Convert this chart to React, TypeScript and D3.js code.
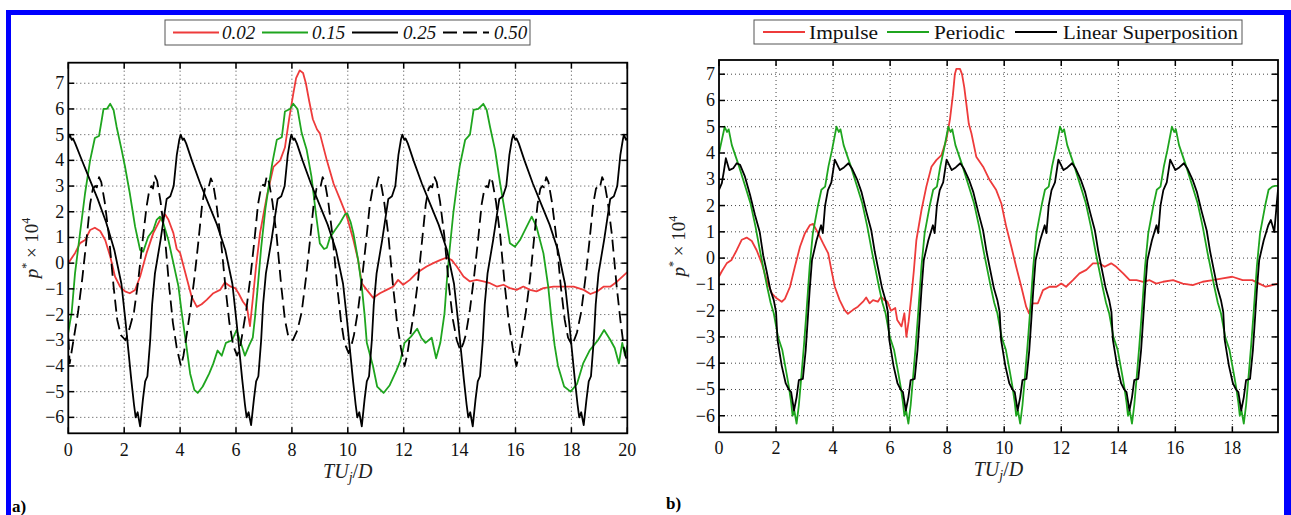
import React from 'react';
import * as d3 from 'd3';

type Pt = [number, number];

// ---------- tick values ----------
const leftXTicks = [0, 2, 4, 6, 8, 10, 12, 14, 16, 18, 20];
const rightXTicks = [0, 2, 4, 6, 8, 10, 12, 14, 16, 18];
const yTicks = [-6, -5, -4, -3, -2, -1, 0, 1, 2, 3, 4, 5, 6, 7];

// ---------- panel a) series ----------
const leftLegend = ['0.02', '0.15', '0.25', '0.50'];

const redA: Pt[] = [
  [0, 0.0], [0.24, 0.39], [0.42, 0.78], [0.6, 0.9], [0.78, 1.29], [0.95, 1.38], [1.14, 1.25], [1.32, 0.9],
  [1.5, 0.26], [1.67, -0.52], [1.85, -0.91], [2.03, -1.1], [2.2, -1.17], [2.39, -1.04], [2.57, -0.52],
  [2.8, 0.39], [3.04, 1.17], [3.28, 1.68], [3.46, 1.9], [3.58, 1.7], [3.76, 1.17], [3.88, 0.55], [4.0, 0.4],
  [4.12, -0.1], [4.24, -0.6], [4.41, -1.3], [4.6, -1.7], [4.77, -1.6], [4.95, -1.43], [5.19, -1.17],
  [5.43, -1.04], [5.6, -0.75], [5.79, -0.9], [5.97, -0.97], [6.09, -1.17], [6.25, -1.5], [6.39, -1.7],
  [6.5, -2.45], [6.62, -1.2], [6.72, -0.1], [6.86, 1.17], [7.1, 2.59], [7.34, 3.75], [7.58, 4.0],
  [7.75, 4.5], [7.9, 5.6], [8.05, 6.6], [8.15, 7.2], [8.28, 7.5], [8.4, 7.4], [8.5, 7.0], [8.62, 6.3],
  [8.75, 5.6], [8.9, 5.2], [9.0, 5.05], [9.25, 4.0], [9.49, 3.1], [9.73, 2.46], [9.97, 1.81], [10.2, 0.9],
  [10.37, 0.12], [10.5, -0.78], [10.68, -1.04], [10.91, -1.35], [11.15, -1.17], [11.39, -1.04],
  [11.63, -0.91], [11.8, -0.65], [11.98, -0.84], [12.22, -0.65], [12.46, -0.39], [12.64, -0.26],
  [12.82, -0.13], [13.06, 0.0], [13.3, 0.12], [13.54, 0.22], [13.72, 0.12], [13.9, -0.13], [14.14, -0.52],
  [14.37, -0.71], [14.61, -0.65], [14.85, -0.71], [15.09, -0.78], [15.33, -0.91], [15.57, -0.84],
  [15.8, -0.97], [16.04, -1.04], [16.28, -0.91], [16.52, -1.04], [16.75, -1.1], [17.0, -0.97],
  [17.36, -0.91], [17.72, -0.91], [18.08, -0.91], [18.44, -1.04], [18.68, -1.2], [18.92, -1.1],
  [19.16, -0.91], [19.4, -0.91], [19.64, -0.71], [20.0, -0.35],
];

const greenA: Pt[] = [
  [0, -2.7], [0.06, -2.3], [0.12, -1.93], [0.24, -0.4], [0.42, 1.17], [0.6, 2.72], [0.78, 4.0], [0.95, 4.87],
  [1.1, 4.95], [1.2, 5.6], [1.26, 6.0], [1.38, 6.0], [1.5, 6.2], [1.62, 5.96], [1.73, 5.3], [1.91, 4.4],
  [2.03, 3.75], [2.2, 2.72], [2.39, 1.42], [2.57, 0.51], [2.68, 0.45], [2.86, 1.03], [3.04, 1.29],
  [3.16, 1.68], [3.28, 1.81], [3.4, 1.55], [3.58, 0.9], [3.76, 0.0], [3.94, -0.9], [4.06, -1.94],
  [4.21, -3.1], [4.36, -4.3], [4.51, -4.93], [4.63, -5.05], [4.81, -4.8], [5.04, -4.3], [5.19, -3.9],
  [5.34, -3.4], [5.49, -3.6], [5.64, -3.1], [5.86, -3.0], [6.02, -2.6], [6.17, -3.1], [6.32, -3.6],
  [6.47, -3.2], [6.6, -2.9], [6.68, -2.1], [6.78, -0.9], [6.9, 0.6], [7.05, 2.1], [7.2, 3.2], [7.3, 3.9],
  [7.46, 4.8], [7.64, 4.9], [7.75, 5.9], [7.93, 6.0], [8.05, 6.2], [8.2, 6.0], [8.35, 5.06], [8.53, 4.4],
  [8.7, 3.37], [8.85, 2.0], [9.0, 0.77], [9.15, 0.55], [9.25, 0.6], [9.36, 1.0], [9.55, 1.3], [9.72, 1.56],
  [9.9, 1.9], [9.98, 1.94], [10.1, 1.6], [10.2, 1.16], [10.37, 0.12], [10.5, -0.9], [10.6, -2.0],
  [10.68, -3.1], [10.9, -4.0], [11.05, -4.8], [11.28, -5.05], [11.5, -4.75], [11.73, -4.2], [11.88, -3.8],
  [12.03, -3.1], [12.26, -2.86], [12.48, -2.55], [12.63, -2.9], [12.78, -3.1], [13.0, -2.9], [13.16, -3.7],
  [13.31, -3.1], [13.46, -1.95], [13.55, -0.6], [13.65, 0.6], [13.78, 2.0], [13.9, 3.0], [14.0, 3.75],
  [14.2, 4.8], [14.37, 5.0], [14.5, 5.96], [14.67, 6.0], [14.85, 6.2], [14.97, 5.96], [15.09, 5.3],
  [15.27, 4.4], [15.45, 3.1], [15.63, 1.94], [15.8, 0.77], [15.98, 0.64], [16.16, 0.9], [16.4, 1.42],
  [16.58, 1.81], [16.75, 1.42], [17.0, 0.38], [17.17, -0.9], [17.29, -2.2], [17.4, -3.2], [17.52, -4.0],
  [17.74, -4.8], [17.97, -5.0], [18.2, -4.7], [18.42, -3.9], [18.65, -3.4], [18.8, -3.2], [18.95, -3.0],
  [19.17, -2.6], [19.4, -3.0], [19.55, -3.3], [19.7, -3.9], [19.82, -3.1], [19.92, -3.6], [20.0, -3.2],
];

const blackA: Pt[] = [
  [0, 4.85], [0.05, 5.0], [0.12, 4.8], [0.17, 4.85], [0.25, 4.65], [0.45, 4.1], [0.75, 3.3], [1.05, 2.5],
  [1.35, 1.6], [1.65, 0.5], [1.9, -0.8], [2.05, -2.3], [2.15, -3.4], [2.25, -4.5], [2.35, -5.5], [2.41, -6.0],
  [2.48, -5.8], [2.57, -6.35], [2.67, -5.3], [2.75, -4.6], [2.83, -4.4], [2.93, -3.0], [3.0, -1.6],
  [3.1, -0.4], [3.3, 0.9], [3.52, 2.5], [3.65, 2.6], [3.77, 3.0], [3.88, 4.2], [3.97, 4.8],
  [4.02, 5.0], [4.09, 4.8], [4.14, 4.85], [4.22, 4.65], [4.42, 4.0], [4.72, 3.1], [5.02, 2.3], [5.32, 1.5],
  [5.62, 0.5], [5.87, -0.8], [6.02, -2.3], [6.12, -3.4], [6.22, -4.5], [6.32, -5.5], [6.38, -6.0],
  [6.45, -5.8], [6.54, -6.3], [6.64, -5.3], [6.72, -4.6], [6.8, -4.4], [6.9, -3.0], [6.97, -1.6],
  [7.07, -0.4], [7.27, 0.9], [7.49, 2.5], [7.62, 2.6], [7.74, 3.0], [7.85, 4.2], [7.94, 4.8],
  [7.98, 5.0], [8.05, 4.8], [8.1, 4.85], [8.18, 4.65], [8.38, 4.0], [8.68, 3.1], [8.98, 2.3], [9.28, 1.5],
  [9.58, 0.5], [9.83, -0.8], [9.98, -2.3], [10.08, -3.4], [10.18, -4.5], [10.28, -5.5], [10.34, -6.0],
  [10.41, -5.8], [10.5, -6.35], [10.6, -5.3], [10.68, -4.6], [10.76, -4.4], [10.86, -3.0], [10.93, -1.6],
  [11.03, -0.4], [11.23, 0.9], [11.45, 2.5], [11.58, 2.6], [11.7, 3.0], [11.81, 4.2], [11.9, 4.8],
  [11.95, 5.0], [12.02, 4.8], [12.07, 4.85], [12.15, 4.65], [12.35, 4.0], [12.65, 3.1], [12.95, 2.3],
  [13.25, 1.5], [13.55, 0.5], [13.8, -0.8], [13.95, -2.3], [14.05, -3.4], [14.15, -4.5], [14.25, -5.5],
  [14.31, -6.0], [14.38, -5.8], [14.47, -6.35], [14.57, -5.3], [14.65, -4.6], [14.73, -4.4], [14.83, -3.0],
  [14.9, -1.6], [15.0, -0.4], [15.2, 0.9], [15.42, 2.5], [15.55, 2.6], [15.67, 3.0], [15.78, 4.2],
  [15.87, 4.8], [15.92, 5.0], [15.99, 4.8], [16.04, 4.85], [16.12, 4.65], [16.32, 4.0], [16.62, 3.1],
  [16.92, 2.3], [17.22, 1.5], [17.52, 0.5], [17.77, -0.8], [17.92, -2.3], [18.02, -3.4], [18.12, -4.5],
  [18.22, -5.5], [18.28, -6.0], [18.35, -5.8], [18.44, -6.3], [18.54, -5.3], [18.62, -4.6], [18.7, -4.4],
  [18.8, -3.0], [18.87, -1.6], [18.97, -0.4], [19.17, 0.9], [19.39, 2.5], [19.52, 2.6], [19.64, 3.0],
  [19.75, 4.2], [19.84, 4.8], [19.88, 5.0], [19.95, 4.8], [20.0, 4.85],
];

const dashA: Pt[] = [
  [0, -2.9], [0.05, -3.9], [0.2, -2.9], [0.35, -1.9], [0.5, -0.6], [0.65, 0.9], [0.78, 2.3], [0.88, 2.9],
  [0.96, 3.0], [1.02, 2.95], [1.1, 3.35], [1.18, 3.15], [1.3, 2.4], [1.45, 1.1], [1.62, -0.9], [1.75, -2.2],
  [1.88, -2.8], [2.05, -3.0], [2.2, -2.5], [2.35, -1.9], [2.5, -0.7], [2.65, 0.8], [2.8, 2.2], [2.9, 2.85],
  [2.97, 3.0], [3.03, 2.9], [3.1, 3.4], [3.18, 3.2], [3.3, 2.4], [3.45, 1.1], [3.6, -0.8], [3.74, -2.3],
  [3.88, -3.3], [4.03, -4.0], [4.12, -3.6], [4.22, -2.9], [4.37, -1.8], [4.52, -0.5], [4.66, 0.9],
  [4.79, 2.3], [4.89, 2.9], [4.96, 3.0], [5.02, 2.95], [5.1, 3.3], [5.18, 3.1], [5.3, 2.3], [5.45, 1.0],
  [5.62, -0.9], [5.76, -2.3], [5.9, -3.2], [6.04, -3.6], [6.14, -3.3], [6.22, -2.8], [6.37, -1.8],
  [6.52, -0.5], [6.66, 0.9], [6.79, 2.3], [6.89, 2.9], [6.97, 3.05], [7.03, 3.0], [7.1, 3.38], [7.18, 3.15],
  [7.3, 2.4], [7.45, 1.1], [7.62, -0.9], [7.75, -2.2], [7.88, -2.9], [8.03, -3.0], [8.2, -2.6], [8.35, -1.9],
  [8.5, -0.6], [8.65, 0.9], [8.78, 2.3], [8.88, 2.9], [8.96, 3.0], [9.02, 2.95], [9.1, 3.35], [9.18, 3.15],
  [9.3, 2.4], [9.45, 1.1], [9.62, -0.9], [9.75, -2.2], [9.88, -3.1], [10.03, -3.5], [10.13, -3.2],
  [10.22, -2.8], [10.37, -1.8], [10.52, -0.5], [10.66, 0.9], [10.79, 2.3], [10.89, 2.9], [10.96, 3.0],
  [11.02, 2.95], [11.1, 3.35], [11.18, 3.15], [11.3, 2.4], [11.45, 1.1], [11.62, -0.9], [11.76, -2.3],
  [11.9, -3.3], [12.03, -4.0], [12.12, -3.6], [12.22, -2.9], [12.37, -1.9], [12.52, -0.6], [12.66, 0.9],
  [12.79, 2.3], [12.89, 2.9], [12.96, 3.0], [13.02, 2.95], [13.1, 3.35], [13.18, 3.15], [13.3, 2.4],
  [13.45, 1.1], [13.62, -0.9], [13.76, -2.2], [13.9, -3.0], [14.03, -3.4], [14.14, -3.1], [14.22, -2.8],
  [14.37, -1.8], [14.52, -0.5], [14.66, 0.9], [14.79, 2.3], [14.89, 2.9], [14.96, 3.0], [15.02, 2.95],
  [15.1, 3.35], [15.18, 3.15], [15.3, 2.4], [15.45, 1.1], [15.62, -0.9], [15.76, -2.3], [15.9, -3.3],
  [16.03, -4.0], [16.12, -3.6], [16.22, -2.9], [16.37, -1.9], [16.52, -0.6], [16.66, 0.9], [16.79, 2.3],
  [16.89, 2.9], [16.96, 3.0], [17.02, 2.95], [17.1, 3.35], [17.18, 3.15], [17.3, 2.4], [17.45, 1.1],
  [17.62, -0.9], [17.76, -2.2], [17.88, -2.9], [18.03, -3.2], [18.2, -2.7], [18.35, -1.9], [18.5, -0.6],
  [18.65, 0.9], [18.78, 2.3], [18.88, 2.9], [18.96, 3.0], [19.02, 2.95], [19.1, 3.35], [19.18, 3.15],
  [19.3, 2.4], [19.45, 1.1], [19.62, -0.9], [19.75, -2.2], [19.88, -3.3], [20.0, -3.9],
];

// ---------- panel b) series ----------
const rightLegend = ['Impulse', 'Periodic', 'Linear Superposition'];

const impulseB: Pt[] = [
  [0, -0.7], [0.1, -0.5], [0.27, -0.2], [0.44, -0.07], [0.62, 0.3], [0.8, 0.7], [0.97, 0.78], [1.15, 0.65],
  [1.32, 0.3], [1.5, -0.2], [1.67, -0.84], [1.85, -1.34], [2.02, -1.53], [2.2, -1.66], [2.31, -1.55],
  [2.49, -1.09], [2.66, -0.33], [2.84, 0.43], [3.01, 0.94], [3.19, 1.26], [3.3, 1.3], [3.48, 0.94],
  [3.65, 0.56], [3.83, 0.18], [3.94, -0.45], [4.06, -1.09], [4.23, -1.6], [4.4, -1.97], [4.52, -2.12],
  [4.7, -1.97], [4.87, -1.85], [5.05, -1.66], [5.16, -1.5], [5.28, -1.72], [5.4, -1.6], [5.57, -1.66],
  [5.68, -1.47], [5.8, -1.6], [5.9, -1.65], [6.03, -2.0], [6.18, -1.9], [6.25, -2.36], [6.4, -2.6],
  [6.5, -2.1], [6.57, -3.0], [6.65, -2.4], [6.75, -1.4], [6.83, -0.5], [6.92, 0.68], [7.1, 1.83],
  [7.27, 2.72], [7.45, 3.48], [7.62, 3.73], [7.8, 3.92], [7.97, 4.49], [8.1, 5.3], [8.2, 6.2], [8.27, 7.0],
  [8.32, 7.2], [8.45, 7.2], [8.52, 7.0], [8.6, 6.5], [8.68, 5.8], [8.76, 5.1], [8.85, 4.75], [9.02, 3.86],
  [9.26, 3.48], [9.49, 2.97], [9.72, 2.59], [9.9, 2.08], [10.07, 1.2], [10.25, 0.43], [10.42, -0.33],
  [10.6, -1.09], [10.77, -1.85], [10.87, -2.1], [11.0, -1.72], [11.18, -1.72], [11.36, -1.22],
  [11.59, -1.09], [11.83, -1.09], [12.0, -0.97], [12.17, -1.09], [12.41, -0.84], [12.64, -0.58],
  [12.88, -0.45], [13.11, -0.2], [13.34, -0.2], [13.52, -0.33], [13.75, -0.2], [13.93, -0.33],
  [14.17, -0.58], [14.4, -0.84], [14.64, -0.84], [14.87, -0.9], [15.1, -0.84], [15.33, -0.97],
  [15.57, -0.9], [15.92, -0.84], [16.26, -0.97], [16.61, -1.03], [16.96, -0.9], [17.31, -0.84],
  [17.66, -0.77], [18.0, -0.71], [18.36, -0.84], [18.7, -0.84], [18.94, -0.97], [19.17, -1.09],
  [19.4, -1.03], [19.6, -0.97],
];

const periodicB: Pt[] = [
  [0, 4.0], [0.1, 4.5], [0.2, 5.0], [0.28, 4.8], [0.34, 4.9], [0.45, 4.3], [0.7, 3.5], [0.93, 2.7],
  [1.1, 2.1], [1.28, 1.2], [1.45, 0.2], [1.57, -0.45], [1.69, -1.1], [1.81, -1.7], [1.92, -2.1],
  [2.07, -3.0], [2.22, -3.5], [2.37, -4.4], [2.45, -4.9], [2.53, -5.5], [2.58, -6.0], [2.64, -5.8],
  [2.72, -6.3], [2.8, -5.6], [2.88, -4.6], [2.98, -3.3], [3.07, -2.0], [3.18, -0.3], [3.29, 0.94],
  [3.47, 2.0], [3.59, 2.6], [3.72, 2.72], [3.84, 3.5], [3.96, 4.1], [4.12, 5.0],
  [4.2, 4.8], [4.26, 4.9], [4.37, 4.3], [4.62, 3.5], [4.85, 2.7], [5.02, 2.1], [5.2, 1.2], [5.37, 0.2],
  [5.49, -0.45], [5.61, -1.1], [5.73, -1.7], [5.84, -2.1], [5.99, -3.0], [6.14, -3.5], [6.29, -4.4],
  [6.37, -4.9], [6.45, -5.5], [6.5, -6.0], [6.56, -5.8], [6.64, -6.3], [6.72, -5.6], [6.8, -4.6],
  [6.9, -3.3], [6.99, -2.0], [7.1, -0.3], [7.21, 0.94], [7.39, 2.0], [7.51, 2.6], [7.64, 2.72],
  [7.76, 3.5], [7.88, 4.1], [8.04, 5.0],
  [8.12, 4.8], [8.18, 4.9], [8.29, 4.3], [8.54, 3.5], [8.77, 2.7], [8.94, 2.1], [9.12, 1.2], [9.29, 0.2],
  [9.41, -0.45], [9.53, -1.1], [9.65, -1.7], [9.76, -2.1], [9.91, -3.0], [10.06, -3.5], [10.21, -4.4],
  [10.29, -4.9], [10.37, -5.5], [10.42, -6.0], [10.48, -5.8], [10.56, -6.3], [10.64, -5.6], [10.72, -4.6],
  [10.82, -3.3], [10.91, -2.0], [11.02, -0.3], [11.13, 0.94], [11.31, 2.0], [11.43, 2.6], [11.56, 2.72],
  [11.68, 3.5], [11.8, 4.1], [11.96, 5.0],
  [12.04, 4.8], [12.1, 4.9], [12.21, 4.3], [12.46, 3.5], [12.69, 2.7], [12.86, 2.1], [13.04, 1.2],
  [13.21, 0.2], [13.33, -0.45], [13.45, -1.1], [13.57, -1.7], [13.68, -2.1], [13.83, -3.0], [13.98, -3.5],
  [14.13, -4.4], [14.21, -4.9], [14.29, -5.5], [14.34, -6.0], [14.4, -5.8], [14.48, -6.3], [14.56, -5.6],
  [14.64, -4.6], [14.74, -3.3], [14.83, -2.0], [14.94, -0.3], [15.05, 0.94], [15.23, 2.0], [15.35, 2.6],
  [15.48, 2.72], [15.6, 3.5], [15.72, 4.1], [15.88, 5.0],
  [15.96, 4.8], [16.02, 4.9], [16.13, 4.3], [16.38, 3.5], [16.61, 2.7], [16.78, 2.1], [16.96, 1.2],
  [17.13, 0.2], [17.25, -0.45], [17.37, -1.1], [17.49, -1.7], [17.6, -2.1], [17.75, -3.0], [17.9, -3.5],
  [18.05, -4.4], [18.13, -4.9], [18.21, -5.5], [18.26, -6.0], [18.32, -5.8], [18.4, -6.3], [18.48, -5.6],
  [18.56, -4.6], [18.66, -3.3], [18.75, -2.0], [18.86, -0.3], [18.97, 0.94], [19.15, 2.0], [19.27, 2.6],
  [19.4, 2.72], [19.5, 2.75], [19.6, 2.75],
];

const superB: Pt[] = [
  [0, 2.6], [0.1, 2.85], [0.17, 3.3], [0.24, 3.8], [0.36, 3.35], [0.5, 3.42], [0.62, 3.61], [0.74, 3.55],
  [0.91, 3.1], [1.09, 2.4], [1.26, 1.65], [1.43, 0.98], [1.55, 0.1], [1.67, -0.5], [1.8, -1.2], [1.92, -1.6],
  [2.0, -2.05], [2.05, -3.1], [2.2, -4.1], [2.34, -4.77], [2.45, -5.0], [2.53, -5.1], [2.63, -5.8],
  [2.72, -5.3], [2.8, -4.64], [2.94, -4.6], [3.04, -3.5], [3.12, -2.2], [3.18, -1.2], [3.26, -0.08],
  [3.42, 0.68], [3.58, 1.25], [3.64, 0.95], [3.72, 2.0], [3.82, 2.59], [3.94, 2.88], [4.06, 3.75],
  [4.24, 3.35], [4.38, 3.45], [4.54, 3.61], [4.67, 3.4], [4.84, 3.0], [5.0, 2.5], [5.17, 1.75], [5.34, 1.05],
  [5.46, 0.25], [5.58, -0.4], [5.72, -1.15], [5.84, -1.6], [5.92, -2.05], [5.97, -3.1], [6.12, -4.1],
  [6.26, -4.77], [6.37, -5.0], [6.45, -5.1], [6.55, -5.8], [6.64, -5.3], [6.72, -4.64], [6.86, -4.6],
  [6.96, -3.5], [7.04, -2.2], [7.1, -1.2], [7.18, -0.08], [7.34, 0.68], [7.5, 1.25], [7.56, 0.95],
  [7.64, 2.0], [7.74, 2.59], [7.86, 2.88], [7.98, 3.75],
  [8.16, 3.35], [8.3, 3.45], [8.46, 3.61], [8.59, 3.4], [8.76, 3.0], [8.92, 2.5], [9.09, 1.75], [9.26, 1.05],
  [9.38, 0.25], [9.5, -0.4], [9.64, -1.15], [9.76, -1.6], [9.84, -2.05], [9.89, -3.1], [10.04, -4.1],
  [10.18, -4.77], [10.29, -5.0], [10.37, -5.1], [10.47, -5.8], [10.56, -5.3], [10.64, -4.64], [10.78, -4.6],
  [10.88, -3.5], [10.96, -2.2], [11.02, -1.2], [11.1, -0.08], [11.26, 0.68], [11.42, 1.25], [11.48, 0.95],
  [11.56, 2.0], [11.66, 2.59], [11.78, 2.88], [11.9, 3.75],
  [12.08, 3.35], [12.22, 3.45], [12.38, 3.61], [12.51, 3.4], [12.68, 3.0], [12.84, 2.5], [13.01, 1.75],
  [13.18, 1.05], [13.3, 0.25], [13.42, -0.4], [13.56, -1.15], [13.68, -1.6], [13.76, -2.05], [13.81, -3.1],
  [13.96, -4.1], [14.1, -4.77], [14.21, -5.0], [14.29, -5.1], [14.39, -5.8], [14.48, -5.3], [14.56, -4.64],
  [14.7, -4.6], [14.8, -3.5], [14.88, -2.2], [14.94, -1.2], [15.02, -0.08], [15.18, 0.68], [15.34, 1.25],
  [15.4, 0.95], [15.48, 2.0], [15.58, 2.59], [15.7, 2.88], [15.82, 3.75],
  [16.0, 3.35], [16.14, 3.45], [16.3, 3.61], [16.43, 3.4], [16.6, 3.0], [16.76, 2.5], [16.93, 1.75],
  [17.1, 1.05], [17.22, 0.25], [17.34, -0.4], [17.48, -1.15], [17.6, -1.6], [17.68, -2.05], [17.73, -3.1],
  [17.88, -4.1], [18.02, -4.77], [18.13, -5.0], [18.21, -5.1], [18.31, -5.8], [18.4, -5.3], [18.48, -4.64],
  [18.62, -4.6], [18.72, -3.5], [18.8, -2.2], [18.86, -1.2], [18.94, -0.08], [19.1, 0.68], [19.26, 1.25],
  [19.35, 1.45], [19.47, 1.0], [19.55, 2.0], [19.6, 2.6],
];

const RED = '#ee3b3b';
const GREEN = '#1fa51f';
const BLACK = '#000000';
const FONT = '"Liberation Serif", "Times New Roman", serif';

type Series = { data: Pt[]; color: string; dash?: string };

type PanelProps = {
  id: string;
  x0: number; x1: number; yTop: number; yBot: number;
  xMax: number; yMin: number; yMax: number;
  xTicks: number[];
  series: Series[];
  tickBase: number;
  xLabelY: number;
  yLabelX: number;
};

function fmt(v: number) {
  return v < 0 ? '\u2212' + Math.abs(v) : String(v);
}

function Panel(p: PanelProps) {
  const xs = d3.scaleLinear().domain([0, p.xMax]).range([p.x0, p.x1]);
  const ys = d3.scaleLinear().domain([p.yMin, p.yMax]).range([p.yBot, p.yTop]);
  const line = d3.line<Pt>().x(d => xs(d[0])).y(d => ys(d[1]));
  const tl = 6;
  const cx = (p.x0 + p.x1) / 2;
  const cy = (p.yTop + p.yBot) / 2;
  return (
    <g>
      <defs>
        <clipPath id={p.id}>
          <rect x={p.x0} y={p.yTop} width={p.x1 - p.x0} height={p.yBot - p.yTop} />
        </clipPath>
      </defs>
      <rect x={p.x0} y={p.yTop} width={p.x1 - p.x0} height={p.yBot - p.yTop} fill="#fff" />
      {p.xTicks.filter(t => t > 0 && t < p.xMax).map(t => (
        <line key={'gx' + t} x1={xs(t)} x2={xs(t)} y1={p.yTop} y2={p.yBot}
          stroke="#444" strokeWidth={1} strokeDasharray="1,3" />
      ))}
      {yTicks.map(t => (
        <line key={'gy' + t} x1={p.x0} x2={p.x1} y1={ys(t)} y2={ys(t)}
          stroke="#444" strokeWidth={1} strokeDasharray="1,3" />
      ))}
      <g clipPath={`url(#${p.id})`}>
        {p.series.map((s, i) => (
          <path key={i} d={line(s.data) || ''} fill="none" stroke={s.color} strokeWidth={1.8}
            strokeDasharray={s.dash} strokeLinejoin="round" />
        ))}
      </g>
      {p.xTicks.map(t => (
        <g key={'tx' + t}>
          <line x1={xs(t)} x2={xs(t)} y1={p.yBot} y2={p.yBot - tl} stroke="#000" strokeWidth={1.5} />
          <line x1={xs(t)} x2={xs(t)} y1={p.yTop} y2={p.yTop + tl} stroke="#000" strokeWidth={1.5} />
          <text x={xs(t)} y={p.tickBase} textAnchor="middle" fontFamily={FONT} fontSize={18} fill="#111">{fmt(t)}</text>
        </g>
      ))}
      {yTicks.map(t => (
        <g key={'ty' + t}>
          <line x1={p.x0} x2={p.x0 + tl} y1={ys(t)} y2={ys(t)} stroke="#000" strokeWidth={1.5} />
          <line x1={p.x1} x2={p.x1 - tl} y1={ys(t)} y2={ys(t)} stroke="#000" strokeWidth={1.5} />
          <text x={p.x0 - 4} y={ys(t) + 6} textAnchor="end" fontFamily={FONT} fontSize={18} fill="#111">{fmt(t)}</text>
        </g>
      ))}
      <rect x={p.x0} y={p.yTop} width={p.x1 - p.x0} height={p.yBot - p.yTop} fill="none" stroke="#000" strokeWidth={1.8} />
      <text x={cx} y={p.xLabelY} textAnchor="middle" fontFamily={FONT} fontSize={20} fill="#222">
        <tspan fontStyle="italic">TU</tspan>
        <tspan fontStyle="italic" fontSize={14} dy={4}>j</tspan>
        <tspan dy={-4}>/</tspan>
        <tspan fontStyle="italic">D</tspan>
      </text>
      <text transform={`translate(${p.yLabelX},${cy}) rotate(-90)`} textAnchor="middle" fontFamily={FONT} fontSize={19} fill="#222">
        <tspan fontStyle="italic">p</tspan>
        <tspan fontSize={12} dy={-8}>*</tspan>
        <tspan dy={8}>{' \u00d7 10'}</tspan>
        <tspan fontSize={12} dy={-8}>4</tspan>
      </text>
    </g>
  );
}

function LegendLine({ x1, x2, y, color, dash }: { x1: number; x2: number; y: number; color: string; dash?: string }) {
  return <line x1={x1} x2={x2} y1={y} y2={y} stroke={color} strokeWidth={1.8} strokeDasharray={dash} />;
}

export default function App() {
  const leftSeries: Series[] = [
    { data: redA, color: RED },
    { data: greenA, color: GREEN },
    { data: blackA, color: BLACK },
    { data: dashA, color: BLACK, dash: '12,6' },
  ];
  const rightSeries: Series[] = [
    { data: impulseB, color: RED },
    { data: periodicB, color: GREEN },
    { data: superB, color: BLACK },
  ];
  const lColors = [RED, GREEN, BLACK, BLACK];
  const lDash = [undefined, undefined, undefined, '14,6'];
  const lLineX = [173, 262, 352, 443];
  const lTextX = [222, 312, 403, 494];
  const rColors = [RED, GREEN, BLACK];
  const rLineX = [763, 887, 1015];
  const rTextX = [809, 934, 1063];
  const rTextW = [69, 71, 175];
  return (
    <svg width={1291} height={515} style={{ position: 'absolute', left: 0, top: 0, background: '#fff' }}>
      <rect x={0} y={0} width={1291} height={515} fill="#fff" />
      <rect x={6} y={10} width={1285} height={5} fill="#0000ff" />
      <rect x={6} y={10} width={5} height={505} fill="#0000ff" />
      <rect x={1284} y={10} width={7} height={505} fill="#0000ff" />

      <Panel id="clipA" x0={68.3} x1={627.3} yTop={62.7} yBot={433.3} xMax={20} yMin={-6.62} yMax={7.8}
        xTicks={leftXTicks} series={leftSeries} tickBase={456} xLabelY={478} yLabelX={38} />
      <Panel id="clipB" x0={719} x1={1278} yTop={60} yBot={432.3} xMax={19.6} yMin={-6.63} yMax={7.54}
        xTicks={rightXTicks} series={rightSeries} tickBase={454} xLabelY={476} yLabelX={685} />

      <rect x={165} y={20} width={365} height={25} fill="#fff" stroke="#555" strokeWidth={1} />
      {leftLegend.map((lab, i) => (
        <g key={lab}>
          <LegendLine x1={lLineX[i]} x2={lLineX[i] + 46} y={32.5} color={lColors[i]} dash={lDash[i]} />
          <text x={lTextX[i]} y={39} fontFamily={FONT} fontStyle="italic" fontSize={19} fill="#111">{lab}</text>
        </g>
      ))}
      <rect x={754} y={20} width={488} height={24} fill="#fff" stroke="#555" strokeWidth={1} />
      {rightLegend.map((lab, i) => (
        <g key={lab}>
          <LegendLine x1={rLineX[i]} x2={rLineX[i] + 42} y={32} color={rColors[i]} />
          <text x={rTextX[i]} y={38.5} fontFamily={FONT} fontSize={19} fill="#111"
            textLength={rTextW[i]} lengthAdjust="spacingAndGlyphs">{lab}</text>
        </g>
      ))}

      <text x={12} y={512} fontFamily={FONT} fontWeight="bold" fontSize={17} fill="#000">a)</text>
      <text x={666} y={509} fontFamily={FONT} fontWeight="bold" fontSize={17} fill="#000">b)</text>
    </svg>
  );
}
